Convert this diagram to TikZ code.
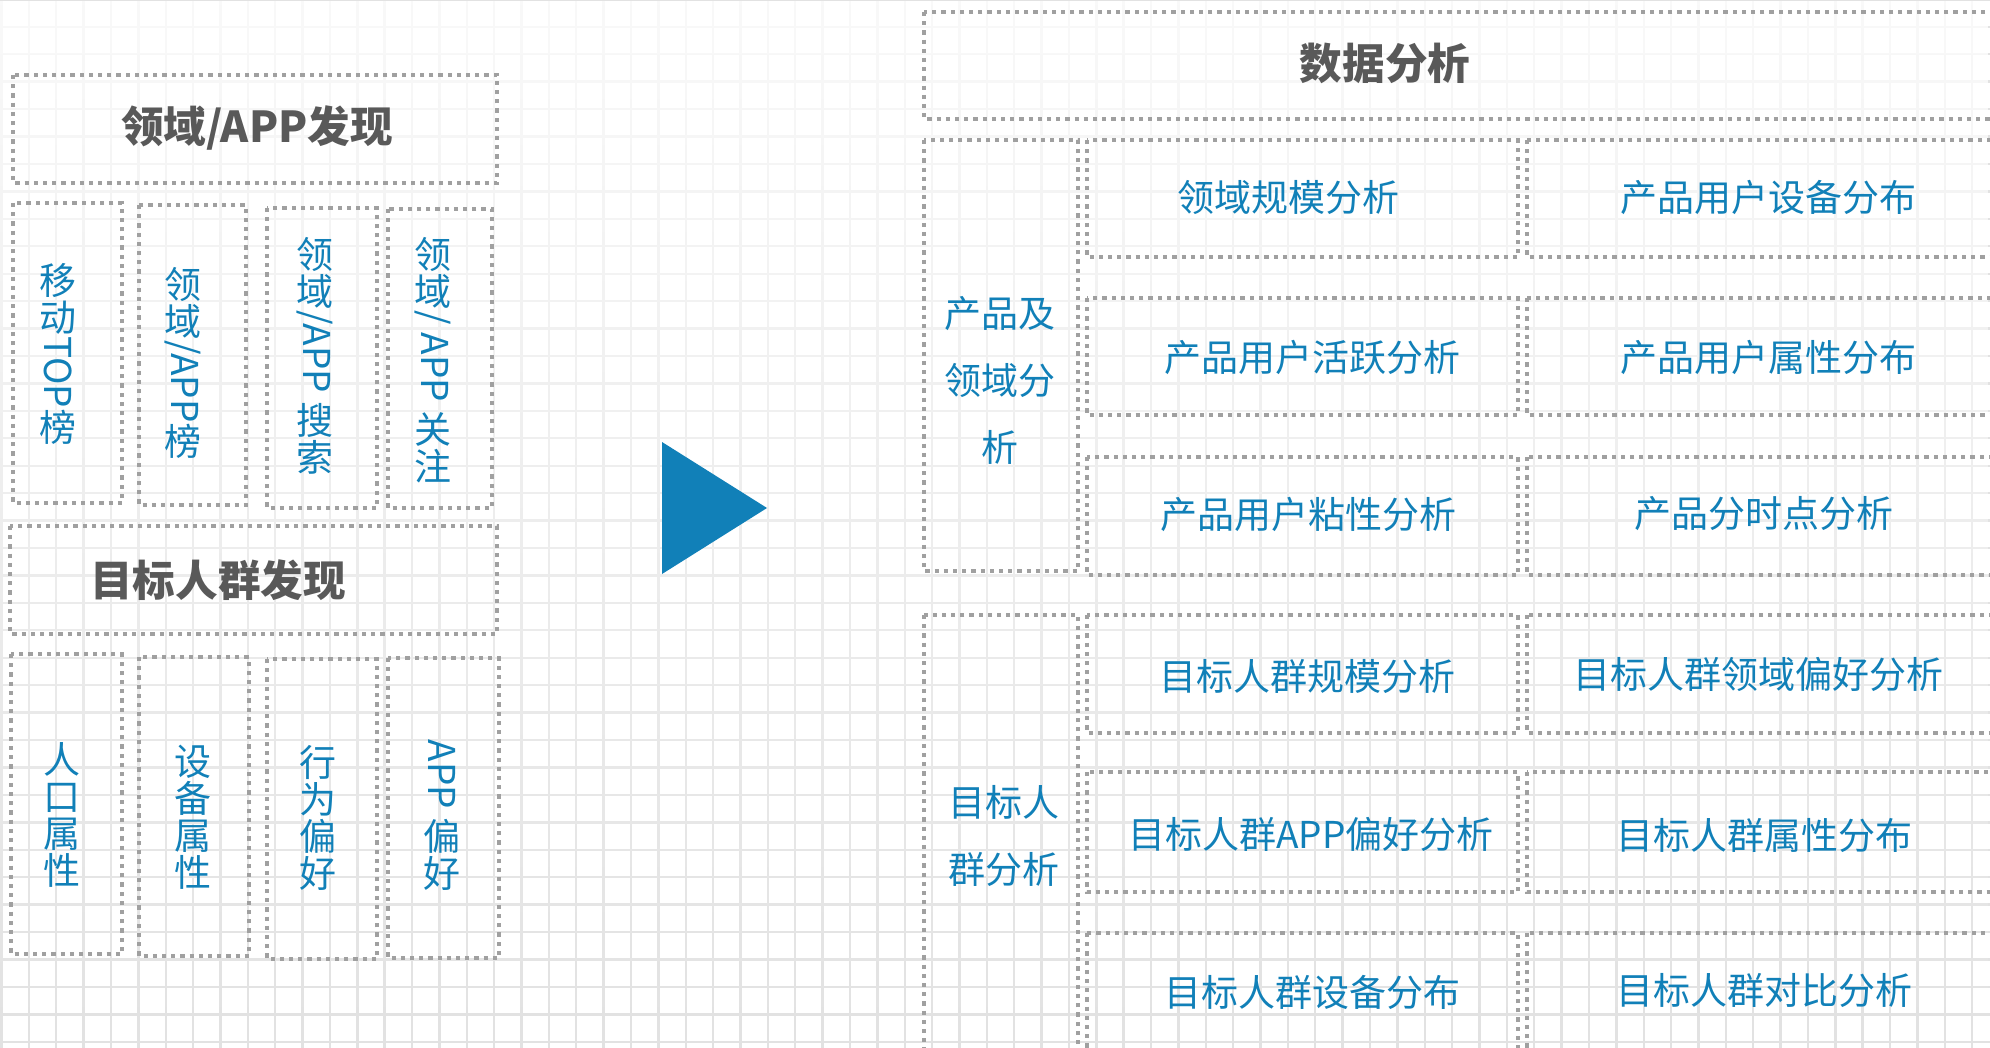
\documentclass[tikz,border=0pt]{standalone}
\usepackage{fontspec}
\setmainfont{Noto Sans CJK SC}
\usepackage{graphicx}
\usetikzlibrary{fadings}

\definecolor{gridgray}{HTML}{E2E2E2}
\definecolor{dotgray}{HTML}{A0A0A0}
\definecolor{textblue}{HTML}{1180B8}
\definecolor{headgray}{HTML}{595959}
\newcommand{\vlat}[1]{\rotatebox[origin=c]{-90}{#1}}

\begin{document}
\begin{tikzpicture}[x=0.5pt, y=-0.5pt,
  dotbox/.style={draw=dotgray, line width=2pt, dash pattern=on 2.1pt off 2.5pt},
  heading/.style={text=headgray, font=\fontsize{21.3}{25}\selectfont\bfseries, inner sep=0pt},
  vtext/.style={text=textblue, font=\fontsize{18.5}{18.5}\selectfont, align=center, inner sep=0pt},
  item/.style={text=textblue, font=\fontsize{18.5}{22}\selectfont, inner sep=0pt},
  group/.style={text=textblue, font=\fontsize{18.5}{33.5}\selectfont, align=center, inner sep=0pt}]
\useasboundingbox (0,0) rectangle (1990,1048);
\clip (0,0) rectangle (1990,1048);
% background grid
\foreach \i in {0,...,72}
  \draw[gridgray, line width=1.2pt] ({1.5+27.37*\i},0) -- ({1.5+27.37*\i},1048);
\foreach \j in {0,...,38}
  \draw[gridgray, line width=1.2pt] (0,{-0.6+27.43*\j}) -- (1990,{-0.6+27.43*\j});
\fill[white, path fading=south, fill opacity=0.8] (0,0) rectangle (1990,1048);

% left: discovery
\draw[dotbox] (13,75) rectangle (497,183);
\node[heading] (appFind) at (257,128) {领域/APP发现};
\draw[dotbox] (13,203) rectangle (122,503);
\draw[dotbox] (139,205) rectangle (246,505);
\draw[dotbox] (267,208) rectangle (377,508);
\draw[dotbox] (388,209) rectangle (492,508);
\node[vtext] (topList) at (58,354) {移\\动\\\vlat{TOP}\\榜};
\node[vtext] (appList) at (183,363) {领\\域\\\vlat{/APP}\\榜};
\node[vtext] (appSearch) at (315,356) {领\\域\\\vlat{/APP\ }\\搜\\索};
\node[vtext] (appFollow) at (433,360) {领\\域\\\vlat{/ APP\ }\\关\\注};

\draw[dotbox] (10,526) rectangle (497,634);
\node[heading] (userFind) at (218,580) {目标人群发现};
\draw[dotbox] (11,654) rectangle (122,954);
\draw[dotbox] (139,657) rectangle (249,956);
\draw[dotbox] (267,659) rectangle (377,959);
\draw[dotbox] (388,658) rectangle (499,958);
\node[vtext] (popAttr) at (62,815) {人\\口\\属\\性};
\node[vtext] (devAttr) at (193,817) {设\\备\\属\\性};
\node[vtext] (actPref) at (318,818) {行\\为\\偏\\好};
\node[vtext] (appPref) at (442,815) {\vlat{APP\ }\\偏\\好};

% arrow
\fill[textblue] (662,442) -- (767,508) -- (662,574) -- cycle;

% right: analysis
\draw[dotbox] (924,12) rectangle (2010,119);
\node[heading] (dataTitle) at (1385,63) {数据分析};
\draw[dotbox] (924,140) rectangle (1078,571);
\draw[dotbox] (924,615) rectangle (1078,1070);
\node[group] (prodGroup) at (1000,380) {产品及\\领域分\\析};
\node[group] (userGroup) at (1004,836) {目标人\\群分析};
\foreach \t/\b in {140/257, 298/415, 457/575, 615/733, 772/892, 933/1070} {
  \draw[dotbox] (1087,\t) rectangle (1518,\b);
  \draw[dotbox] (1527,\t) rectangle (2010,\b);
}
\node[item] (scale) at (1288,197) {领域规模分析};
\node[item] (prodDev) at (1768,197) {产品用户设备分布};
\node[item] (prodAct) at (1312,357) {产品用户活跃分析};
\node[item] (prodAttr) at (1768,357) {产品用户属性分布};
\node[item] (prodStick) at (1308,514) {产品用户粘性分析};
\node[item] (prodHour) at (1764,514) {产品分时点分析};
\node[item] (userScale) at (1307,676) {目标人群规模分析};
\node[item] (userDomain) at (1758,674) {目标人群领域偏好分析};
\node[item] (userApp) at (1311,834) {目标人群APP偏好分析};
\node[item] (userAttr) at (1764,835) {目标人群属性分布};
\node[item] (userDev) at (1312,992) {目标人群设备分布};
\node[item] (userCmp) at (1764,990) {目标人群对比分析};
\end{tikzpicture}
\end{document}
